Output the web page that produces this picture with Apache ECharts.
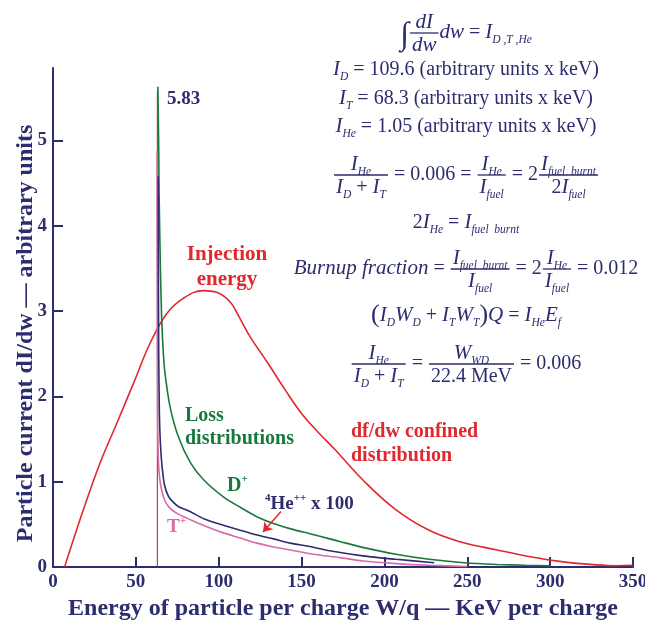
<!DOCTYPE html>
<html>
<head>
<meta charset="UTF-8">
<script src="https://cdn.jsdelivr.net/npm/echarts@6/dist/echarts.min.js"></script>
<style>
  html, body { margin: 0; padding: 0; background: #ffffff; }
  #chart { width: 645px; height: 625px; }
</style>
</head>
<body>
<div id="chart"></div>
<script>
// tick values
var xTicks = [0, 50, 100, 150, 200, 250, 300, 350];
var yTicks = [0, 1, 2, 3, 4, 5];

// df/dw confined distribution (red)
var confinedDist = [[7,0],[18.3,0.67],[28.4,1.22],[38.4,1.68],[48.5,2.15],[58.5,2.62],[68.6,2.97],[78.6,3.15],[90.7,3.24],[98.8,3.22],[106.8,3.11],[111.8,2.95],[118.9,2.70],[130,2.38],[140,2.08],[150,1.80],[160,1.58],[170,1.38],[187,1.02],[207,0.67],[227,0.43],[245,0.30],[268,0.20],[288,0.12],[308,0.06],[328,0.025],[340,0.015],[350,0.02]];
// loss distributions
var lossD = [[63.3,5.63],[63.8,4.9],[64,4.42],[64.8,3.5],[65.6,2.9],[66.6,2.5],[67.6,2.27],[70.6,1.88],[75.6,1.53],[83,1.22],[91,1.02],[103,0.82],[113,0.70],[123,0.59],[133,0.51],[143,0.45],[155,0.39],[167,0.33],[173,0.30],[187,0.23],[207,0.15],[227,0.09],[248,0.05],[268,0.03],[285,0.02],[300,0.015]];
var lossHe = [[63.5,4.58],[63.6,3.5],[63.8,2.5],[64.2,1.8],[64.8,1.45],[65.8,1.18],[67.2,0.97],[69.6,0.83],[72.5,0.76],[75.6,0.71],[82.7,0.65],[91.7,0.56],[102.8,0.49],[113,0.43],[123,0.375],[133,0.33],[143,0.28],[155,0.24],[167,0.19],[187,0.13],[207,0.09],[230,0.05]];
var lossT = [[62.8,4.88],[62.9,3.5],[63.1,2.0],[63.5,1.3],[64.3,1.05],[65.6,0.9],[67.5,0.78],[70.5,0.69],[75.6,0.62],[85.7,0.53],[91.7,0.48],[102.8,0.40],[113,0.34],[123,0.28],[133,0.235],[143,0.20],[157,0.15],[173,0.11],[187,0.07],[207,0.04],[227,0.02],[250,0.005]];
// injection energy marker and arrow to the He curve
var injectionLine = [[63,0],[63,5.58]];
var heArrow = [[137.6,0.65],[126.7,0.41]];

var SERIF = '"Liberation Serif", "Times New Roman", serif';
var NAVY = '#2b2d6e';
var RED = '#e0282f';
var GREEN = '#17793c';
var PINK = '#d96aa8';
var BROWN = '#b5483f';

// equations: token = [kind, text], fraction = {frac: [num, den]}
var eqRows = [
  {base: 39, items: [['b','\u222B'], {frac: [[['i','dI']], [['i','dw']]]}, ['i','dw'], ['r',' = '], ['i','I'], ['s','D ,T ,He']]},
  {base: 76, items: [['i','I'], ['s','D'], ['r',' = 109.6 (arbitrary units x keV)']]},
  {base: 105, items: [['i','I'], ['s','T'], ['r',' = 68.3 (arbitrary units x keV)']]},
  {base: 133, items: [['i','I'], ['s','He'], ['r',' = 1.05 (arbitrary units x keV)']]},
  {base: 181, items: [
    {frac: [[['i','I'],['s','He']], [['i','I'],['s','D'],['r',' + '],['i','I'],['s','T']]]},
    ['r',' = 0.006 = '],
    {frac: [[['i','I'],['s','He']], [['i','I'],['s','fuel']]]},
    ['r',' = 2'],
    {frac: [[['i','I'],['s','fuel  burnt']], [['r','2'],['i','I'],['s','fuel']]]}
  ]},
  {base: 229, items: [['r','2'], ['i','I'], ['s','He'], ['r',' = '], ['i','I'], ['s','fuel  burnt']]},
  {base: 275, items: [
    ['i','Burnup fraction'], ['r',' = '],
    {frac: [[['i','I'],['s','fuel  burnt']], [['i','I'],['s','fuel']]]},
    ['r',' = 2'],
    {frac: [[['i','I'],['s','He']], [['i','I'],['s','fuel']]]},
    ['r',' = 0.012']
  ]},
  {base: 322, items: [['p','('], ['i','I'], ['s','D'], ['i','W'], ['s','D'], ['r',' + '], ['i','I'], ['s','T'], ['i','W'], ['s','T'], ['p',')'], ['i','Q'], ['r',' = '], ['i','I'], ['s','He'], ['i','E'], ['s','f']]},
  {base: 370, items: [
    {frac: [[['i','I'],['s','He']], [['i','I'],['s','D'],['r',' + '],['i','I'],['s','T']]]},
    ['r',' = '],
    {frac: [[['i','W'],['s','WD']], [['r','22.4 MeV']]]},
    ['r',' = 0.006']
  ]}
];
var EQ_CX = 466;

var EQ_SIZE = {r: 20, i: 21, s: 11.5, b: 32, p: 26};
var EQ_DY = {r: 0, i: 0, s: 5, b: 7, p: 2};
function eqFont(k) {
  var st = (k === 'i' || k === 's') ? 'italic ' : '';
  return st + EQ_SIZE[k] + 'px ' + SERIF;
}
var mctx = document.createElement('canvas').getContext('2d');
function tokW(t) { mctx.font = eqFont(t[0]); return mctx.measureText(t[1]).width; }
function seqW(seq) { return seq.reduce(function (a, t) { return a + tokW(t); }, 0); }
function itemW(it) { return it.frac ? Math.max(seqW(it.frac[0]), seqW(it.frac[1])) + 6 : tokW(it); }
function putSeq(seq, x, base, out) {
  seq.forEach(function (t) {
    var size = EQ_SIZE[t[0]];
    out.push({
      type: 'text', silent: true,
      x: x, y: base + EQ_DY[t[0]] - 0.33 * size,
      style: {text: t[1], font: eqFont(t[0]), fill: NAVY,
        align: 'left', textAlign: 'left', verticalAlign: 'middle', textVerticalAlign: 'middle'}
    });
    x += tokW(t);
  });
}
function layoutRow(row, out) {
  var total = row.items.reduce(function (a, it) { return a + itemW(it); }, 0);
  var x = EQ_CX - total / 2;
  row.items.forEach(function (it) {
    var w = itemW(it);
    if (it.frac) {
      var bar = row.base - 6;
      out.push({type: 'line', silent: true, shape: {x1: x + 1, y1: bar, x2: x + w - 1, y2: bar},
        style: {stroke: NAVY, lineWidth: 1.3}});
      putSeq(it.frac[0], x + (w - seqW(it.frac[0])) / 2, bar - 4, out);
      putSeq(it.frac[1], x + (w - seqW(it.frac[1])) / 2, bar + 19, out);
    } else {
      putSeq([it], x, row.base, out);
    }
    x += w;
  });
}

var graphics = [];
eqRows.forEach(function (r) { layoutRow(r, graphics); });

function label(x, y, text, color, size, extra) {
  var st = {text: text, fill: color, fontFamily: SERIF, fontWeight: 'bold', fontSize: size,
    lineHeight: size + 3, align: 'left', textAlign: 'left', verticalAlign: 'top', textVerticalAlign: 'top'};
  for (var k in extra) st[k] = extra[k];
  graphics.push({type: 'text', x: x, y: y, silent: true, style: st});
}
function supRich(color, size) {
  return {
    a: {fill: color, fontFamily: SERIF, fontWeight: 'bold', fontSize: size},
    p: {fill: color, fontFamily: SERIF, fontWeight: 'bold', fontSize: 11, verticalAlign: 'top'}
  };
}
label(167, 88, '5.83', NAVY, 19);
label(227, 242, 'Injection\nenergy', RED, 21, {align: 'center', textAlign: 'center', lineHeight: 25});
label(185, 404, 'Loss\ndistributions', GREEN, 20, {lineHeight: 23});
label(351, 420, 'df/dw confined\ndistribution', RED, 20, {lineHeight: 24});
label(227, 474, '{a|D}{p|+}', GREEN, 20, {rich: supRich(GREEN, 20)});
label(265, 493, '{p|4}{a|He}{p|++}{a| x 100}', NAVY, 19, {rich: supRich(NAVY, 19)});
label(167, 516, '{a|T}{p|+}', PINK, 19, {rich: supRich(PINK, 19)});

var axisFont = {fontFamily: SERIF, fontWeight: 'bold', fontSize: 19, color: NAVY};

var chart = echarts.init(document.getElementById('chart'));
chart.setOption({
  animation: false,
  backgroundColor: '#ffffff',
  grid: {left: 53, right: 12, top: 68, bottom: 58, outerBoundsMode: 'none'},
  xAxis: {
    type: 'value', min: 0, max: 350, interval: 50,
    name: 'Energy of particle per charge W/q \u2014 KeV per charge',
    nameLocation: 'middle', nameGap: 27,
    nameTextStyle: {fontFamily: SERIF, fontWeight: 'bold', fontSize: 24, color: NAVY},
    axisLine: {show: true, lineStyle: {color: NAVY, width: 2}},
    axisTick: {show: true, inside: true, length: 10, lineStyle: {color: NAVY, width: 2}, customValues: xTicks},
    axisLabel: Object.assign({margin: 6, customValues: xTicks}, axisFont),
    splitLine: {show: false}
  },
  yAxis: {
    type: 'value', min: 0, max: 5.85,
    name: 'Particle current dI/dw \u2014 arbitrary units',
    nameLocation: 'middle', nameGap: 15, nameMoveOverlap: false,
    nameTextStyle: {fontFamily: SERIF, fontWeight: 'bold', fontSize: 24, color: NAVY, padding: [0, 32, 0, 0]},
    axisLine: {show: true, lineStyle: {color: NAVY, width: 2}},
    axisTick: {show: true, inside: true, length: 10, lineStyle: {color: NAVY, width: 2}, customValues: yTicks},
    axisLabel: Object.assign({margin: 6, customValues: yTicks}, axisFont),
    splitLine: {show: false}
  },
  series: [
    {type: 'line', data: injectionLine, showSymbol: false, lineStyle: {color: BROWN, width: 1.2}, z: 1},
    {type: 'line', data: confinedDist, showSymbol: false, smooth: 0.4, lineStyle: {color: RED, width: 1.6}, z: 2},
    {type: 'line', data: lossD, showSymbol: false, smooth: 0.25, lineStyle: {color: GREEN, width: 1.6}, z: 3},
    {type: 'line', data: lossHe, showSymbol: false, smooth: 0.25, lineStyle: {color: NAVY, width: 1.6}, z: 4,
      markLine: {silent: true, symbol: ['none', 'arrow'], symbolSize: 9, label: {show: false},
        lineStyle: {color: RED, width: 1.5, type: 'solid'},
        data: [[{coord: heArrow[0]}, {coord: heArrow[1]}]]}},
    {type: 'line', data: lossT, showSymbol: false, smooth: 0.25, lineStyle: {color: PINK, width: 1.6}, z: 3}
  ],
  graphic: {elements: graphics}
});
</script>
</body>
</html>
